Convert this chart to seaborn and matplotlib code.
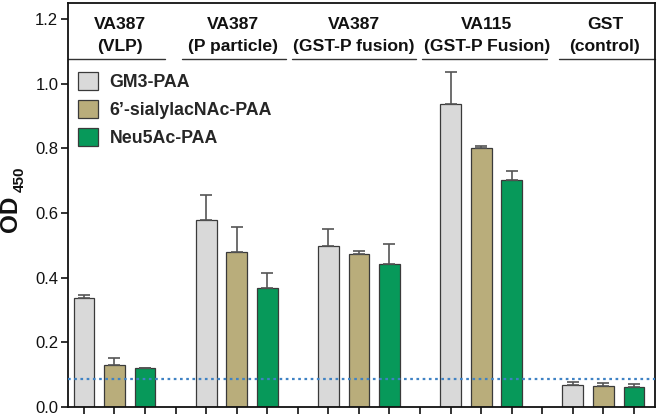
import matplotlib
matplotlib.use("Agg")
import matplotlib.pyplot as plt
import seaborn as sns
import pandas as pd
import numpy as np
from matplotlib.patches import Patch

sns.set_theme(style="white")
plt.rcParams['font.family'] = ['Liberation Sans', 'DejaVu Sans']

groups_line1 = ["VA387", "VA387", "VA387", "VA115", "GST"]
groups_line2 = ["(VLP)", "(P particle)", "(GST-P fusion)", "(GST-P Fusion)", "(control)"]
series = ["GM3-PAA", "6\u2019-sialylacNAc-PAA", "Neu5Ac-PAA"]
colors = ["#d9d9d9", "#b9ad7b", "#07995a"]

gm3 = [0.338, 0.580, 0.498, 0.937, 0.068]
gm3_err = [0.008, 0.076, 0.052, 0.098, 0.009]
sial = [0.129, 0.481, 0.474, 0.801, 0.064]
sial_err = [0.023, 0.075, 0.008, 0.007, 0.010]
neu = [0.120, 0.368, 0.443, 0.702, 0.061]
neu_err = [0.002, 0.048, 0.061, 0.028, 0.010]
cutoff = 0.088

# header underline spans (data x coords)
spans = [(-0.52, 2.65), (3.2, 6.6), (6.82, 10.87), (11.05, 15.17), (15.55, 18.69)]
label_x = [1.18, 4.89, 8.84, 13.18, 17.05]

vals = [gm3, sial, neu]
errs = [gm3_err, sial_err, neu_err]
rows = []
for si, s in enumerate(series):
    for gi in range(len(groups_line1)):
        rows.append({"pos": gi * 4 + si, "series": s, "val": vals[si][gi], "err": errs[si][gi]})
df = pd.DataFrame(rows)

fig = plt.figure(figsize=(6.58, 4.15), dpi=100)
ax = fig.add_axes([68 / 658, 1 - 407 / 415, 587 / 658, 404 / 415])

sns.barplot(data=df, x="pos", y="val", hue="series", hue_order=series,
            palette=colors, saturation=1, native_scale=True, dodge=False, width=0.68,
            edgecolor="#3a3a3a", linewidth=0.9, errorbar=None, legend=False, ax=ax)

ax.errorbar(df["pos"], df["val"], yerr=[np.zeros(len(df)), df["err"]], fmt="none",
            ecolor="#555555", elinewidth=1.2, capsize=4.5, capthick=1.2, zorder=1)

ax.axhline(cutoff, color="#3f82c4", linestyle=(0, (1.2, 1.6)), linewidth=1.6, zorder=5)

ax.set_xlim(-0.52, 18.69)
ax.set_ylim(0, 1.25)
ax.set_yticks([0.0, 0.2, 0.4, 0.6, 0.8, 1.0, 1.2])
ax.set_yticklabels(["0.0", "0.2", "0.4", "0.6", "0.8", "1.0", "1.2"], fontsize=12, color="#111111")
ax.set_xticks(np.arange(0, 19))
ax.set_xticklabels([])
ax.tick_params(axis="both", direction="out", length=5, width=1.2, color="#111111",
               bottom=True, left=True, pad=2)
ax.set_xlabel("")
ax.set_ylabel("")

# y-axis title: "OD" with subscript "450"
ax.text(-0.0988, 0.477, "OD", transform=ax.transAxes, rotation=90, ha="center", va="center",
        fontsize=17.5, fontweight="bold", color="#111111", clip_on=False)
ax.text(-0.0826, 0.564, "450", transform=ax.transAxes, rotation=90, ha="center", va="center",
        fontsize=11, fontweight="bold", color="#111111", clip_on=False)

for sp in ax.spines.values():
    sp.set_visible(True)
    sp.set_color("#111111")
    sp.set_linewidth(1.3)

for i in range(len(groups_line1)):
    ax.plot(spans[i], [1.078, 1.078], color="#333333", linewidth=1.0, clip_on=False)
    ax.text(label_x[i], 1.183, groups_line1[i], ha="center", va="center",
            fontsize=12.6, fontweight="bold", color="#111111")
    ax.text(label_x[i], 1.116, groups_line2[i], ha="center", va="center",
            fontsize=12.6, fontweight="bold", color="#111111")

handles = [Patch(facecolor=c, edgecolor="#3a3a3a", linewidth=0.9) for c in colors]
ax.legend(handles, series, loc="upper left", bbox_to_anchor=(0.0165, 0.828),
          frameon=False, prop={"weight": "bold", "size": 12.8},
          handlelength=1.15, handleheight=1.15, handletextpad=0.65,
          labelspacing=0.5, borderpad=0, borderaxespad=0)

fig.savefig("out.png", dpi=100)
